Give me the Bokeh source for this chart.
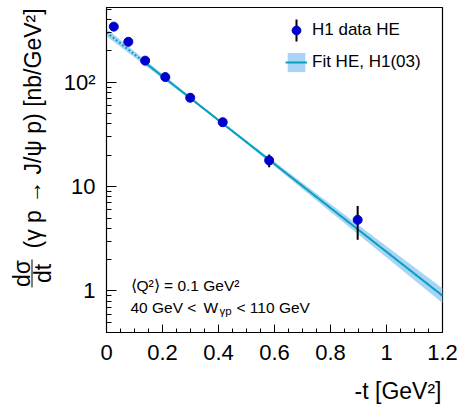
import numpy as np
from bokeh.plotting import figure
from bokeh.layouts import row, column
from bokeh.models import (ColumnDataSource, Range1d, FixedTicker, Label, Legend,
                          LegendItem, BoxAnnotation)
from bokeh.embed import file_html
from bokeh.resources import INLINE

# H1 high-energy J/psi photoproduction: d(sigma)/dt vs -t
t_vals = [0.026, 0.078, 0.138, 0.210, 0.299, 0.415, 0.581, 0.897]
xsec = [341.0, 244.0, 161.0, 112.0, 71.0, 41.4, 17.8, 4.8]
xsec_err = [14.0, 10.0, 7.0, 5.0, 3.5, 2.2, 2.45, 1.7]

# exponential fit  A * exp(-b |t|)  with its uncertainty band
fit_A = 300.0
fit_b = 4.84
fit_pivot = 0.40
fit_norm_err = 0.03
fit_b_err = 0.20
fit_start = 0.13          # below this the fit is an extrapolation (dotted)
fit_end = 1.2

x_ticks = [0, 0.2, 0.4, 0.6, 0.8, 1.0, 1.2]
x_minor = [round(0.05 * i, 2) for i in range(25)]
y_ticks = [1, 10, 100]
y_tick_labels = {1: "1", 10: "10", 100: "10²"}
y_minor = [m * 10.0 ** e for e in (-1, 0, 1, 2) for m in range(2, 10)]
y_minor = [v for v in y_minor if 0.39 < v < 521]

FONT = "Liberation Sans"
DATA_COLOR = "#0000cc"
LINE_COLOR = "#06a2bd"
BAND_COLOR = "#a9d4f6"

TOP_H = 372      # height of the plot row; the x title strip sits below it
LEFT_W = 60      # width of the strip that carries the y title
BORDER_T = 7
BORDER_B = TOP_H - 332

p = figure(width=461 - LEFT_W, height=TOP_H, output_backend="svg",
           toolbar_location=None, y_axis_type="log",
           x_range=Range1d(0, 1.2), y_range=Range1d(0.4, 520),
           min_border_left=106 - LEFT_W, min_border_right=19,
           min_border_top=BORDER_T, min_border_bottom=BORDER_B)
p.background_fill_color = "white"
p.border_fill_color = "white"
p.outline_line_color = "black"
p.outline_line_width = 1.2
p.xgrid.visible = False
p.ygrid.visible = False

# fit curve and band
tf = np.linspace(0.0, fit_end, 241)
yf = fit_A * np.exp(-fit_b * tf)
spread = np.sqrt(fit_norm_err ** 2 + (fit_b_err * (tf - fit_pivot)) ** 2)
band_src = ColumnDataSource(dict(t=tf, lo=yf * np.exp(-spread), hi=yf * np.exp(spread)))
band = p.varea(x="t", y1="lo", y2="hi", source=band_src, fill_color=BAND_COLOR,
               fill_alpha=1.0)

te = tf[tf <= fit_start]
p.line(te, fit_A * np.exp(-fit_b * te), line_color=LINE_COLOR, line_width=2,
       line_dash="2 2")
ts = tf[tf >= fit_start]
fit_line = p.line(ts, fit_A * np.exp(-fit_b * ts), line_color=LINE_COLOR, line_width=2)

# data points with error bars
src = ColumnDataSource(dict(
    t=t_vals, y=xsec,
    lo=[v - e for v, e in zip(xsec, xsec_err)],
    hi=[v + e for v, e in zip(xsec, xsec_err)],
))
p.segment(x0="t", y0="lo", x1="t", y1="hi", source=src, line_color="black",
          line_width=2)
pts = p.scatter(x="t", y="y", source=src, size=9, marker="circle",
                fill_color=DATA_COLOR, line_color=DATA_COLOR)

# axes
xa = p.xaxis[0]
xa.ticker = FixedTicker(ticks=x_ticks, minor_ticks=x_minor)
ya = p.yaxis[0]
ya.ticker = FixedTicker(ticks=y_ticks, minor_ticks=y_minor)
ya.major_label_overrides = y_tick_labels
for ax, maj, mnr in ((xa, 8, 4), (ya, 10, 5)):
    ax.major_tick_in = maj
    ax.major_tick_out = 0
    ax.minor_tick_in = mnr
    ax.minor_tick_out = 0
    ax.major_tick_line_color = "black"
    ax.minor_tick_line_color = "black"
    ax.axis_line_color = "black"
    ax.major_label_text_font = FONT
    ax.major_label_text_font_size = "22px"
    ax.major_label_text_color = "black"
xa.major_label_standoff = 12
ya.major_label_standoff = 11


def add_text(fig, x, y, text, size="15.5px", angle=0.0, align="left"):
    # (x, y) is the middle of the text line, in pixels from the frame's lower left
    fig.add_layout(Label(x=x, y=y, x_units="screen", y_units="screen", angle=angle,
                         text=text, text_align=align, text_baseline="middle",
                         text_font=FONT, text_font_size=size, text_color="black"))


# kinematic range text
add_text(p, 24, 47, "⟨Q²⟩ = 0.1 GeV²")
add_text(p, 24, 25.5, "40 GeV <")
add_text(p, 97, 25.5, "W")
add_text(p, 113, 22, "γp", "11.5px")
add_text(p, 130, 25.5, "< 110 GeV")

# vertical error-bar stroke for the data legend entry
p.add_layout(BoxAnnotation(left=189, right=191, bottom=291, top=313,
                           left_units="screen", right_units="screen",
                           bottom_units="screen", top_units="screen",
                           fill_color="black", fill_alpha=1.0, line_alpha=0))

legend = Legend(items=[
    LegendItem(label="H1 data HE", renderers=[pts]),
    LegendItem(label="Fit HE, H1(03)", renderers=[band, fit_line]),
], location=(179, 258))
legend.glyph_width = 22
legend.glyph_height = 24
legend.label_height = 24
legend.spacing = 8
legend.padding = 0
legend.margin = 0
legend.label_standoff = 5
legend.label_text_font = FONT
legend.label_text_font_size = "17px"
legend.label_text_color = "black"
legend.border_line_alpha = 0
legend.background_fill_alpha = 0
p.add_layout(legend)


def text_strip(width, height, top=0, bottom=0):
    f = figure(width=width, height=height, output_backend="svg",
               toolbar_location=None, x_axis_location=None, y_axis_location=None,
               x_range=Range1d(0, 1), y_range=Range1d(0, 1),
               min_border=0, min_border_left=0, min_border_right=0,
               min_border_top=top, min_border_bottom=bottom)
    f.outline_line_color = None
    f.background_fill_color = "white"
    f.border_fill_color = "white"
    f.grid.visible = False
    return f


# y axis title:  dsigma/dt (gamma p -> J/psi p) [nb/GeV^2]
# (its frame shares the top and bottom edges of the main frame)
ytitle = text_strip(LEFT_W, TOP_H, BORDER_T, BORDER_B)
add_text(ytitle, 32, 84, "(γ p → J/ψ p) [nb/GeV²]", "23px", np.pi / 2)
add_text(ytitle, 21, 59, "dσ", "23px", np.pi / 2, "center")
add_text(ytitle, 42, 59, "dt", "23px", np.pi / 2, "center")
ytitle.add_layout(BoxAnnotation(left=31, right=32, bottom=45, top=73,
                                left_units="screen", right_units="screen",
                                bottom_units="screen", top_units="screen",
                                fill_color="black", fill_alpha=1.0, line_alpha=0))

# x axis title
xtitle = text_strip(461, 408 - TOP_H)
add_text(xtitle, 441, 18, "-t [GeV²]", "23px", 0.0, "right")

layout = column(row(ytitle, p, spacing=0), xtitle, spacing=0)
open("out.html", "w").write(file_html(layout, INLINE))
